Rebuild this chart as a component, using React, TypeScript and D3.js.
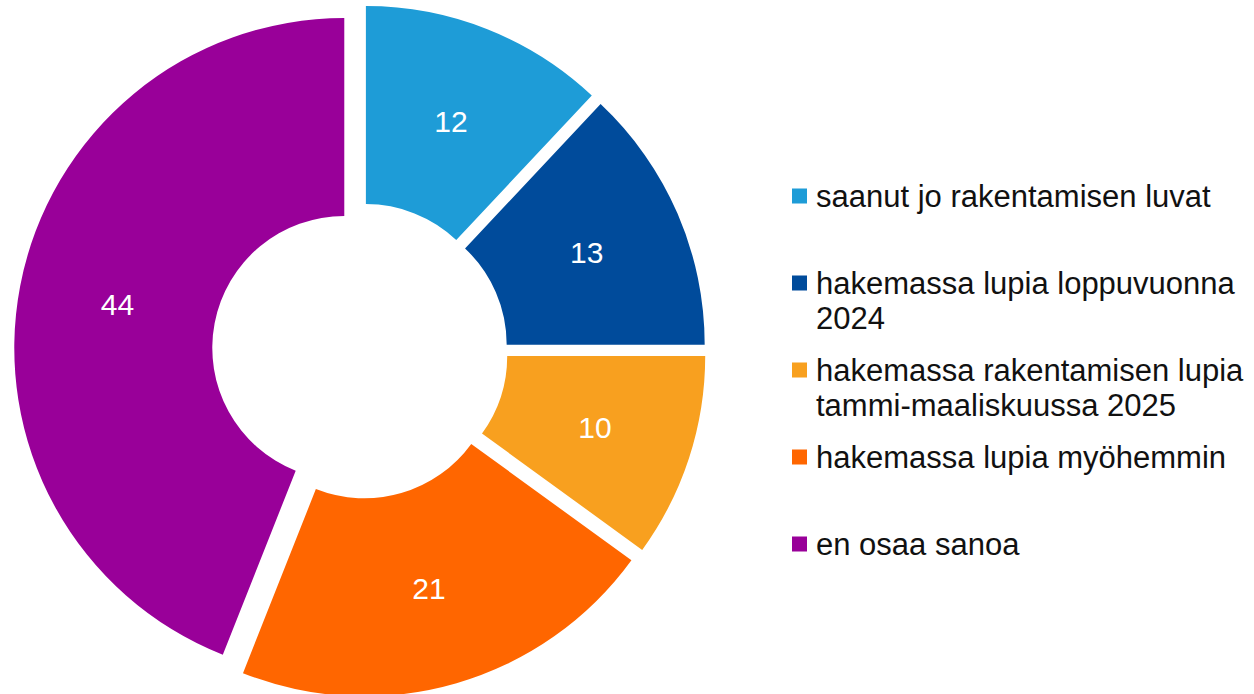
import React from "react";
import * as d3 from "d3";

const categories = [
  "saanut jo rakentamisen luvat",
  "hakemassa lupia loppuvuonna 2024",
  "hakemassa rakentamisen lupia tammi-maaliskuussa 2025",
  "hakemassa lupia myöhemmin",
  "en osaa sanoa",
];
const legendLines = [
  ["saanut jo rakentamisen luvat"],
  ["hakemassa lupia loppuvuonna", "2024"],
  ["hakemassa rakentamisen lupia", "tammi-maaliskuussa 2025"],
  ["hakemassa lupia myöhemmin"],
  ["en osaa sanoa"],
];
const values = [12, 13, 10, 21, 44];
const colors = ["#1E9CD7", "#004B9B", "#F8A01F", "#FF6600", "#990099"];

const W = 1254;
const H = 694;
const CX = 360;
const CY = 351;
const R = 330;
const r = 132;
const EXPLODE = 16;

export default function App() {
  const pie = d3
    .pie<number>()
    .sort(null)
    .value((d) => d)
    .startAngle(0)
    .endAngle(2 * Math.PI);
  const arcs = pie(values);
  const arc = d3.arc<d3.PieArcDatum<number>>().innerRadius(r).outerRadius(R);
  const mid = (R + r) / 2;

  return (
    <svg
      width={W}
      height={H}
      style={{ position: "absolute", left: 0, top: 0, background: "#fff" }}
      fontFamily="'Liberation Sans', Arial, sans-serif"
    >
      <g transform={`translate(${CX},${CY})`}>
        {arcs.map((a, i) => {
          const m = (a.startAngle + a.endAngle) / 2;
          const dx = Math.sin(m) * EXPLODE;
          const dy = -Math.cos(m) * EXPLODE;
          const lx = dx + Math.sin(m) * mid;
          const ly = dy - Math.cos(m) * mid;
          return (
            <g key={i}>
              <path d={arc(a) || ""} transform={`translate(${dx},${dy})`} fill={colors[i]} />
              <text
                x={lx}
                y={ly}
                fill="#fff"
                fontSize={30}
                textAnchor="middle"
                dominantBaseline="central"
              >
                {values[i]}
              </text>
            </g>
          );
        })}
      </g>
      <g>
        {categories.map((c, i) => {
          const cyL = 196 + i * 87;
          return (
            <g key={c}>
              <rect x={792} y={cyL - 7.5} width={15} height={15} fill={colors[i]} />
              {legendLines[i].map((ln, j) => (
                <text key={j} x={816} y={cyL + 10.5 + j * 35} fontSize={31} fill="#111">
                  {ln}
                </text>
              ))}
            </g>
          );
        })}
      </g>
    </svg>
  );
}
